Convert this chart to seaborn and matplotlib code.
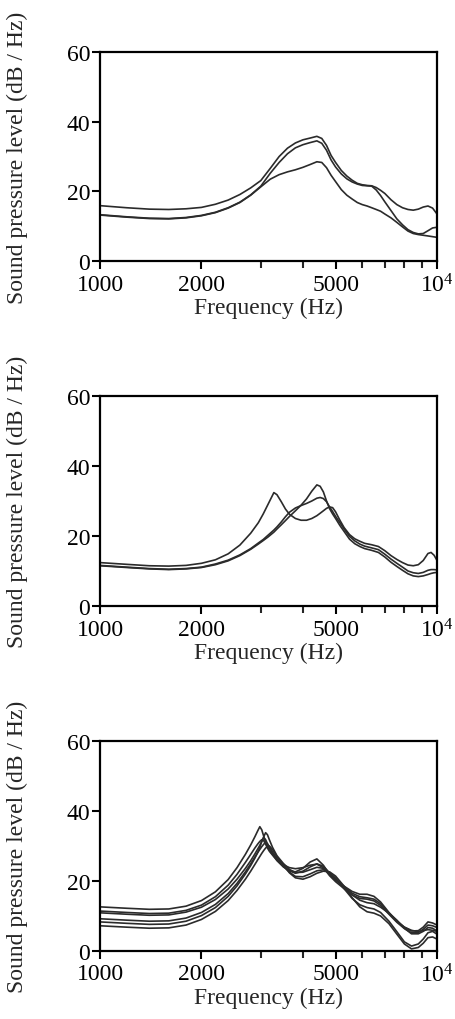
import numpy as np
import pandas as pd
import matplotlib
matplotlib.use("Agg")
import matplotlib.pyplot as plt
import seaborn as sns
from matplotlib.ticker import FixedLocator, NullFormatter

# Panel 1 - three spectra
freq_top = [1000, 1200, 1400, 1600, 1800, 2000, 2200, 2400, 2600, 2800, 3000, 3200,
            3400, 3600, 3800, 4000, 4200, 4400, 4550, 4700, 4850, 5000, 5200, 5400,
            5600, 5800, 6000, 6200, 6400, 6600, 6800, 7000, 7300, 7600, 7900, 8200,
            8500, 8800, 9100, 9400, 9700, 10000]
top_1 = [15.9, 15.3, 14.9, 14.8, 15.0, 15.4, 16.3, 17.5, 19.1, 21.0, 23.1, 26.6,
         30.0, 32.4, 33.9, 34.8, 35.3, 35.8, 35.2, 33.2, 30.3, 28.3, 26.0, 24.4,
         23.2, 22.3, 21.9, 21.7, 21.6, 21.1, 20.3, 19.4, 17.6, 16.2, 15.3, 14.8,
         14.6, 14.9, 15.5, 15.8, 15.2, 13.5]
top_2 = [13.3, 12.7, 12.3, 12.2, 12.5, 13.1, 14.0, 15.3, 16.9, 19.0, 21.5, 25.2,
         28.3, 30.8, 32.5, 33.4, 34.0, 34.5, 33.8, 31.8, 29.0, 27.0, 25.0, 23.6,
         22.7, 22.1, 21.7, 21.6, 21.5, 20.4, 18.8, 17.0, 14.5, 12.1, 10.4, 9.0,
         8.2, 7.8, 7.9, 8.7, 9.5, 9.7]
top_3 = [13.2, 12.6, 12.2, 12.1, 12.4, 13.0, 13.9, 15.2, 16.8, 18.9, 21.3, 23.5,
         24.8, 25.6, 26.2, 26.9, 27.7, 28.5, 28.3, 26.8, 24.6, 22.8, 20.5, 18.9,
         17.8, 16.8, 16.2, 15.8, 15.3, 14.8, 14.3, 13.5, 12.4, 11.1, 9.8, 8.6,
         7.9, 7.6, 7.4, 7.2, 7.0, 6.8]

# Panel 2 - three spectra
freq_mid = [1000, 1200, 1400, 1600, 1800, 2000, 2200, 2400, 2600, 2800, 2950, 3050,
            3150, 3280, 3350, 3450, 3550, 3650, 3800, 3950, 4100, 4250, 4400, 4500,
            4600, 4700, 4800, 4900, 5000, 5150, 5300, 5500, 5700, 5900, 6100, 6400,
            6700, 7000, 7300, 7600, 7900, 8200, 8500, 8800, 9100, 9400, 9600, 9800,
            10000]
mid_1 = [12.4, 11.9, 11.5, 11.4, 11.6, 12.2, 13.2, 14.9, 17.4, 20.8, 23.8, 26.3,
         29.0, 32.4, 31.8, 29.8, 27.7, 26.2, 25.0, 24.5, 24.5, 25.0, 25.8, 26.5,
         27.2, 27.9, 28.3, 28.1, 26.9, 24.5, 22.4, 20.4, 19.2, 18.5, 17.9, 17.5,
         17.0, 15.8, 14.4, 13.3, 12.4, 11.7, 11.5, 11.8, 13.0, 15.0, 15.3, 14.5,
         13.0]
mid_2 = [11.5, 11.0, 10.6, 10.4, 10.6, 11.0, 11.8, 12.9, 14.4, 16.2, 17.7, 18.7,
         19.7, 21.1, 22.0, 23.2, 24.4, 25.6, 27.2, 28.8, 30.6, 32.8, 34.6, 34.2,
         32.6, 30.0, 27.8, 26.3, 25.0, 23.0, 21.3, 19.1, 17.8, 17.0, 16.4, 15.9,
         15.3, 14.0, 12.5, 11.3, 10.2, 9.2, 8.6, 8.4, 8.6, 9.0, 9.3, 9.5,
         9.6]
mid_3 = [11.6, 11.1, 10.7, 10.5, 10.7, 11.1, 12.0, 13.1, 14.6, 16.4, 18.0, 19.0,
         20.2, 21.7, 22.6, 24.0, 25.5, 26.8, 28.0, 28.7, 29.3, 30.0, 30.8, 31.0,
         30.7, 29.8, 28.3, 27.0, 25.6, 23.8, 22.0, 19.9, 18.6, 17.7, 17.1, 16.6,
         16.1, 14.8, 13.4, 12.2, 11.1, 10.0, 9.5, 9.3, 9.6, 10.2, 10.4, 10.4,
         10.3]

# Panel 3 - six spectra
freq_bot = [1000, 1200, 1400, 1600, 1800, 2000, 2200, 2400, 2550, 2700, 2800, 2880,
            2940, 2980, 3020, 3060, 3100, 3140, 3180, 3250, 3350, 3500, 3650, 3800,
            4000, 4200, 4400, 4600, 4800, 5000, 5300, 5600, 5900, 6200, 6500, 6800,
            7200, 7600, 8000, 8400, 8800, 9100, 9400, 9700, 10000]
bot_1 = [12.6, 12.2, 11.9, 12.0, 12.8, 14.4, 16.9, 20.4, 23.8, 27.6, 30.3, 32.6,
         34.4, 35.5, 34.6, 32.8, 31.0, 29.8, 28.8, 27.5, 25.8, 24.0, 22.9, 22.6,
         23.6, 25.4, 26.3, 24.5, 21.8, 20.2, 18.5, 17.0, 16.2, 16.2, 15.6, 14.0,
         11.0, 8.6, 6.8, 5.7, 5.8, 6.8, 8.3, 8.0, 7.4]
bot_2 = [11.4, 11.0, 10.7, 10.8, 11.6, 13.1, 15.5, 18.8, 21.9, 25.3, 27.6, 29.4,
         30.6, 31.3, 31.8, 31.5, 30.5, 29.4, 28.5, 27.4, 26.0, 24.6, 23.8, 23.5,
         23.8, 24.5, 24.8, 23.8, 21.5, 19.8, 17.8, 16.0, 15.0, 14.8, 14.3, 13.0,
         10.5, 8.2, 6.4, 5.2, 5.3, 6.2, 7.4, 7.2, 6.7]
bot_3 = [10.9, 10.5, 10.2, 10.3, 11.1, 12.5, 14.7, 17.7, 20.5, 23.6, 25.8, 27.7,
         29.2, 30.2, 31.3, 32.6, 33.8, 33.2, 31.8, 29.6, 27.2, 25.0, 23.3, 22.4,
         22.5, 23.2, 23.9, 23.6, 22.0, 20.5, 18.2, 16.0, 14.5, 13.8, 13.5, 12.5,
         10.8, 8.8, 6.5, 4.9, 4.9, 5.6, 6.7, 6.5, 5.7]
bot_4 = [9.2, 8.8, 8.5, 8.6, 9.4, 11.0, 13.3, 16.4, 19.3, 22.6, 24.9, 26.8,
         28.2, 29.0, 29.8, 30.5, 31.0, 30.6, 29.8, 28.3, 26.3, 24.2, 22.5, 21.3,
         21.2, 22.0, 22.9, 23.2, 22.4, 20.8, 17.8, 15.0, 13.2, 12.4, 12.0, 11.0,
         8.5, 5.5, 2.6, 1.4, 2.0, 3.4, 5.2, 5.6, 4.8]
bot_5 = [7.2, 6.8, 6.5, 6.6, 7.4, 9.0, 11.3, 14.4, 17.3, 20.5, 22.8, 24.7,
         26.1, 27.0, 27.9, 28.7, 29.4, 29.9, 30.0, 29.0, 27.0, 24.5, 22.3, 20.9,
         20.5, 21.2, 22.2, 22.8, 22.6, 21.4, 18.5, 15.2, 12.6, 11.2, 10.8, 10.0,
         7.8, 4.8, 2.0, 0.6, 1.0, 2.2, 3.8, 4.0, 3.4]
bot_6 = [8.3, 7.9, 7.6, 7.7, 8.5, 10.1, 12.4, 15.6, 18.6, 22.0, 24.4, 26.5,
         28.2, 29.6, 31.3, 32.4, 31.8, 30.6, 29.5, 28.0, 26.3, 24.4, 22.9, 22.2,
         22.8, 24.0, 24.9, 24.2, 22.3, 20.6, 18.4, 16.5, 15.5, 15.2, 14.8, 13.5,
         10.8, 8.4, 6.8, 5.9, 5.5, 5.8, 6.1, 5.9, 5.6]

panels = [
    (freq_top, [top_1, top_2, top_3]),
    (freq_mid, [mid_1, mid_2, mid_3]),
    (freq_bot, [bot_1, bot_2, bot_3, bot_4, bot_5, bot_6]),
]

x_ticks = [1000, 2000, 5000, 10000]
x_ticklabels = ["1000", "2000", "5000", r"$10^4$"]
x_minor = [3000, 4000, 6000, 7000, 8000, 9000]
y_ticks = [0, 20, 40, 60]

sns.set_style("ticks")
plt.rcParams["font.family"] = ["Liberation Serif", "DejaVu Serif"]
plt.rcParams["mathtext.fontset"] = "custom"
plt.rcParams["mathtext.rm"] = "Liberation Serif"
plt.rcParams["mathtext.it"] = "Liberation Serif"

fig = plt.figure(figsize=(4.55, 10.2), dpi=100)
boxes = [
    [0.2198, 0.7431, 0.7407, 0.2049],
    [0.2198, 0.4049, 0.7407, 0.2059],
    [0.2198, 0.0667, 0.7407, 0.2059],
]

for box, (freq, curves) in zip(boxes, panels):
    ax = fig.add_axes(box)
    rows = []
    for i, spl in enumerate(curves):
        rows.append(pd.DataFrame({"freq": freq, "spl": spl, "run": i}))
    df = pd.concat(rows, ignore_index=True)
    sns.lineplot(data=df, x="freq", y="spl", hue="run", units="run", estimator=None,
                 palette=["#2b2b2b"] * len(curves), linewidth=1.2, legend=False,
                 sort=False, ax=ax)
    ax.set_xscale("log")
    ax.set_xlim(1000, 10000)
    ax.set_ylim(0, 60)
    ax.xaxis.set_major_locator(FixedLocator(x_ticks))
    ax.set_xticklabels(x_ticklabels)
    ax.xaxis.set_minor_locator(FixedLocator(x_minor))
    ax.xaxis.set_minor_formatter(NullFormatter())
    ax.set_yticks(y_ticks)
    for s in ax.spines.values():
        s.set_visible(True)
        s.set_linewidth(1.6)
        s.set_color("black")
    ax.tick_params(axis="both", which="major", direction="out", length=6, width=1.5,
                   labelsize=17, colors="black")
    ax.tick_params(axis="x", which="minor", direction="out", length=5, width=1.5)
    ax.tick_params(axis="x", which="major", pad=3)
    ax.tick_params(axis="y", which="major", pad=1)
    ax.set_xlabel("Frequency (Hz)", fontsize=17, labelpad=0)
    ax.set_ylabel("Sound pressure level (dB / Hz)", fontsize=17, labelpad=28)
    ax.grid(False)

fig.savefig("out.png", dpi=100)
